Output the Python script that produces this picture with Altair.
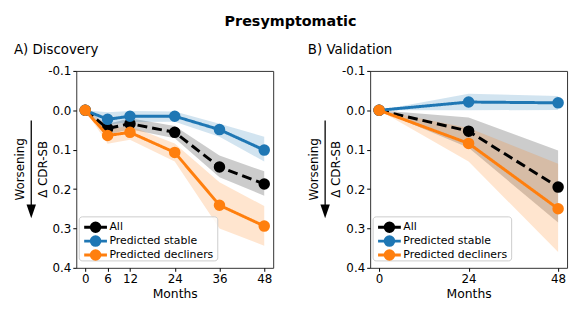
import altair as alt
import pandas as pd

FONT = "DejaVu Sans"

series_names = ["All", "Predicted stable", "Predicted decliners"]
series_colors = ["#000000", "#1f77b4", "#ff7f0e"]

# A) Discovery
disc_months = [0, 6, 12, 24, 36, 48]
disc_all = [0.0, 0.046, 0.034, 0.056, 0.144, 0.187]
disc_all_lo = [0.0, 0.035, 0.020, 0.040, 0.115, 0.155]
disc_all_hi = [0.0, 0.062, 0.048, 0.071, 0.170, 0.217]
disc_stable = [0.0, 0.023, 0.015, 0.015, 0.049, 0.101]
disc_stable_lo = [0.0, 0.005, 0.002, 0.003, 0.034, 0.067]
disc_stable_hi = [0.0, 0.037, 0.030, 0.029, 0.067, 0.130]
disc_decl = [0.0, 0.064, 0.056, 0.107, 0.241, 0.294]
disc_decl_lo = [0.0, 0.048, 0.040, 0.084, 0.183, 0.243]
disc_decl_hi = [0.0, 0.085, 0.075, 0.130, 0.300, 0.344]

# B) Validation
val_months = [0, 24, 48]
val_all = [0.0, 0.053, 0.195]
val_all_lo = [0.0, 0.018, 0.102]
val_all_hi = [0.0, 0.095, 0.285]
val_stable = [0.0, -0.021, -0.019]
val_stable_lo = [0.0, -0.042, -0.036]
val_stable_hi = [0.0, 0.0, -0.001]
val_decl = [0.0, 0.084, 0.250]
val_decl_lo = [0.0, 0.045, 0.136]
val_decl_hi = [0.0, 0.130, 0.360]

y_ticks = [-0.1, 0.0, 0.1, 0.2, 0.3, 0.4]
disc_ticks = [0, 6, 12, 24, 36, 48]
val_ticks = [0, 24, 48]

W = 199
H = 199


def panel(title, months, ticks, means, los, his):
    xs = alt.Scale(domain=[-2.4, 50.4], nice=False, zero=False)
    ys = alt.Scale(domain=[-0.1, 0.4], reverse=True, nice=False, zero=False)
    xaxis = alt.Axis(values=ticks, title="Months", labelAngle=0, format="d",
                     labelPadding=2, titlePadding=3)
    yaxis = alt.Axis(values=y_ticks, title=None, labelPadding=2,
                     labelExpr="datum.value < 0 ? '-' + format(-datum.value, '.1f') : format(datum.value, '.1f')")
    layers = []
    frames = []
    for name, m, lo, hi in zip(series_names, means, los, his):
        frames.append(pd.DataFrame({"month": months, "value": m, "lo": lo, "hi": hi, "series": name}))
    # bands
    for df, c in zip(frames, series_colors):
        layers.append(
            alt.Chart(df).mark_area(color=c, opacity=0.2).encode(
                x=alt.X("month:Q", scale=xs, axis=xaxis),
                y=alt.Y("lo:Q", scale=ys, axis=yaxis),
                y2="hi:Q",
            )
        )
    # lines and points
    for df, c, name in zip(frames, series_colors, series_names):
        dash = [10, 5] if name == "All" else [1, 0]
        layers.append(
            alt.Chart(df).mark_line(color=c, strokeWidth=3, strokeDash=dash).encode(
                x=alt.X("month:Q", scale=xs, axis=xaxis),
                y=alt.Y("value:Q", scale=ys, axis=yaxis),
            )
        )
        layers.append(
            alt.Chart(df).mark_point(filled=True, size=135, color=c, opacity=1).encode(
                x=alt.X("month:Q", scale=xs, axis=xaxis),
                y=alt.Y("value:Q", scale=ys, axis=yaxis),
            )
        )
    # y-axis annotation: Worsening + arrow + Delta CDR-SB
    layers.append(
        alt.Chart().mark_text(text="Worsening", angle=270, fontSize=12, font=FONT,
                              align="center", baseline="middle", color="black")
        .encode(x=alt.value(-57), y=alt.value(H / 2))
    )
    layers.append(
        alt.Chart().mark_text(text="Δ CDR-SB", angle=270, fontSize=12, font=FONT,
                              align="center", baseline="middle", color="black")
        .encode(x=alt.value(-34), y=alt.value(H / 2))
    )
    layers.append(
        alt.Chart().mark_rule(color="black", strokeWidth=1.3)
        .encode(x=alt.value(-45.5), y=alt.value(50), y2=alt.value(137))
    )
    layers.append(
        alt.Chart().mark_point(shape="M-0.68,-1L0.68,-1L0,1Z", size=196, filled=True,
                               color="black", opacity=1)
        .encode(x=alt.value(-45.5), y=alt.value(142))
    )
    # legend
    layers.append(
        alt.Chart().mark_rect(fill="white", fillOpacity=0.8, stroke="#cccccc",
                              strokeWidth=1, cornerRadius=3)
        .encode(x=alt.value(3), x2=alt.value(143), y=alt.value(147.5), y2=alt.value(192))
    )
    for i, (name, c) in enumerate(zip(series_names, series_colors)):
        yy = 158 + 14 * i
        dash = [6, 2.5] if name == "All" else [1, 0]
        layers.append(
            alt.Chart().mark_rule(color=c, strokeWidth=3, strokeDash=dash)
            .encode(x=alt.value(8), x2=alt.value(31), y=alt.value(yy))
        )
        layers.append(
            alt.Chart().mark_point(filled=True, size=135, color=c, opacity=1)
            .encode(x=alt.value(19.5), y=alt.value(yy))
        )
        layers.append(
            alt.Chart().mark_text(text=name, fontSize=11, font=FONT, align="left",
                                  baseline="middle", color="black")
            .encode(x=alt.value(33.5), y=alt.value(yy))
        )
    return alt.layer(*layers).properties(
        width=W, height=H,
        title=alt.TitleParams(title, anchor="start", frame="bounds", fontSize=13.5,
                              fontWeight="normal", font=FONT, color="black", offset=9),
    )


left = panel("A) Discovery", disc_months, disc_ticks,
             [disc_all, disc_stable, disc_decl],
             [disc_all_lo, disc_stable_lo, disc_decl_lo],
             [disc_all_hi, disc_stable_hi, disc_decl_hi])
right = panel("B) Validation", val_months, val_ticks,
              [val_all, val_stable, val_decl],
              [val_all_lo, val_stable_lo, val_decl_lo],
              [val_all_hi, val_stable_hi, val_decl_hi])

chart = (
    alt.hconcat(left, right, spacing=33)
    .properties(title=alt.TitleParams("Presymptomatic", anchor="middle", fontSize=14.5,
                                      fontWeight="bold", font=FONT, color="black", offset=13))
    .configure(font=FONT, padding={"left": 5, "right": 5, "top": 4, "bottom": 5})
    .configure_view(stroke="#333333", strokeWidth=1)
    .configure_axis(labelFont=FONT, labelFontSize=12, labelColor="black",
                    titleFont=FONT, titleFontSize=12.5, titleFontWeight="normal",
                    titleColor="black", tickColor="black", tickSize=3.5, tickWidth=1,
                    domain=False, grid=False)
)

chart.save("out.html", embed_options={"renderer": "svg", "actions": False})
